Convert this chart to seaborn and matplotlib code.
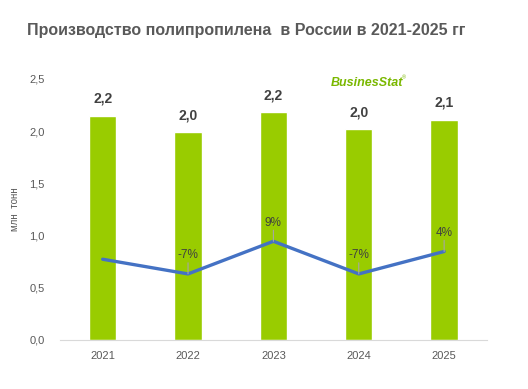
import matplotlib
matplotlib.use('Agg')
import matplotlib.pyplot as plt
import numpy as np
import pandas as pd
import seaborn as sns

years = ['2021', '2022', '2023', '2024', '2025']
production = [2.15, 1.99, 2.18, 2.02, 2.11]
value_labels = ['2,2', '2,0', '2,2', '2,0', '2,1']
growth = [0.2, -7, 9, -7, 4]
growth_labels = [None, '-7%', '9%', '-7%', '4%']

sns.set_style('white')
plt.rcParams['font.family'] = ['Liberation Sans', 'DejaVu Sans']

text_color = '#595959'
bar_color = '#99cc00'
line_color = '#4472c4'

fig = plt.figure(figsize=(5.28, 3.89), dpi=100)
ax = fig.add_axes([0.1136, 0.126, 0.8084, 0.671])

df = pd.DataFrame({'year': years, 'value': production})
sns.barplot(x='year', y='value', data=df, ax=ax, color=bar_color,
            width=0.32, saturation=1)
ax.set_xlim(-0.5, 4.5)
ax.set_ylim(0, 2.5)
ticks = np.arange(0, 2.51, 0.5)
ax.set_yticks(ticks)
ax.set_yticklabels([f'{v:.1f}'.replace('.', ',') for v in ticks])
ax.tick_params(axis='both', length=0, labelsize=8, labelcolor=text_color)
ax.tick_params(axis='y', pad=11)
ax.tick_params(axis='x', pad=8)
ax.set_xlabel('')
ax.set_ylabel('млн  тонн', fontsize=7, color=text_color, labelpad=7)
for side in ['top', 'right', 'left']:
    ax.spines[side].set_visible(False)
ax.spines['bottom'].set_color('#d9d9d9')

# value labels over the bars
for i, (v, lab) in enumerate(zip(production, value_labels)):
    ax.annotate(lab, (i, v), xytext=(0, 7), textcoords='offset points',
                ha='center', va='bottom', fontsize=10, fontweight='bold',
                color='#404040')

# growth line on a hidden second axis
ax2 = ax.twinx()
sns.lineplot(x=np.arange(len(years)), y=growth, ax=ax2, color=line_color,
             linewidth=2.4)
ax2.set_ylim(-39.4, 88.6)
ax2.axis('off')
for i, (g, lab) in enumerate(zip(growth, growth_labels)):
    if lab is None:
        continue
    ax2.annotate('', (i, g), xytext=(0, 8), textcoords='offset points',
                 arrowprops=dict(arrowstyle='-', color='#a6a6a6', lw=0.8,
                                 shrinkA=0, shrinkB=0))
    ax2.annotate(lab, (i, g), xytext=(0, 9), textcoords='offset points',
                 ha='center', va='bottom', fontsize=8.5, color='#404040')

fig.text(0.466, 0.922, 'Производство полипропилена  в России в 2021-2025 гг',
         ha='center', va='center', fontsize=11.5, fontweight='bold',
         color=text_color)

fig.text(0.627, 0.787, 'BusinesStat', ha='left', va='center', fontsize=9,
         fontweight='bold', style='italic', color='#7ab800')
fig.text(0.762, 0.800, '®', ha='left', va='center', fontsize=4,
         color='#7ab800')

fig.savefig('out.png', dpi=100)
